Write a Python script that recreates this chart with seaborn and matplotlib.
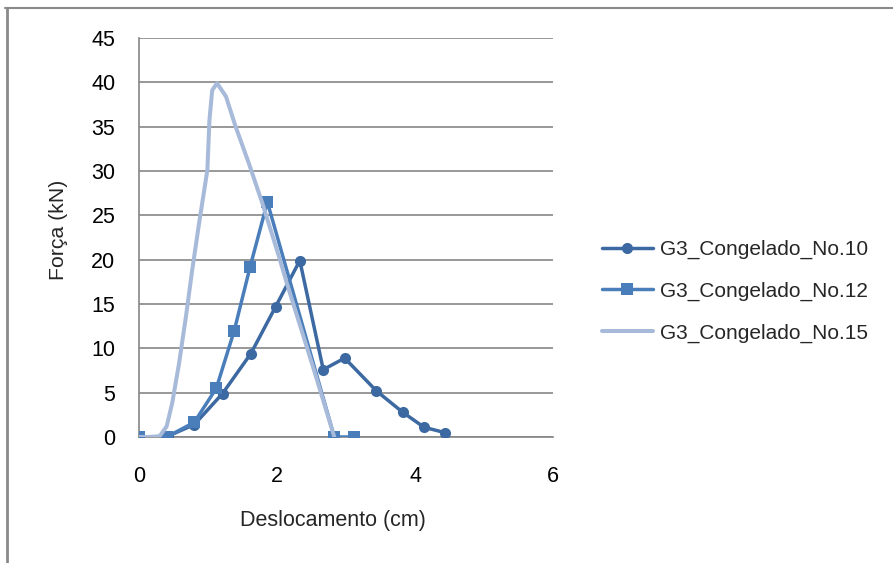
import numpy as np
import pandas as pd
import matplotlib
matplotlib.use("Agg")
import matplotlib.pyplot as plt
from matplotlib.lines import Line2D
import seaborn as sns

# Data
x_no10 = [0, 0.42, 0.8, 1.21, 1.62, 1.98, 2.33, 2.67, 2.98, 3.44, 3.82, 4.13, 4.43]
y_no10 = [0, 0.1, 1.4, 4.9, 9.4, 14.7, 19.9, 7.6, 8.9, 5.2, 2.8, 1.1, 0.5]

x_no12 = [0, 0.4, 0.8, 1.12, 1.38, 1.61, 1.86, 2.83, 3.12]
y_no12 = [0, 0, 1.65, 5.5, 12.0, 19.2, 26.5, 0, 0]

x_no15 = [0, 0.29, 0.4, 0.48, 0.58, 0.68, 0.77, 0.87, 0.99, 1.02, 1.06, 1.13,
          1.26, 1.40, 1.59, 1.79, 2.03, 2.14, 2.53, 2.83]
y_no15 = [0, 0, 1.2, 3.8, 8.3, 13.6, 18.8, 24.1, 30.1, 35.7, 39.1, 39.9,
          38.4, 35.0, 30.9, 26.3, 20.3, 17.4, 7.7, 0]

labels = ["G3_Congelado_No.10", "G3_Congelado_No.12", "G3_Congelado_No.15"]
colors = ["#3C69A2", "#4A7EBB", "#A7BAD9"]

x_ticks = [0, 2, 4, 6]
y_ticks = [0, 5, 10, 15, 20, 25, 30, 35, 40, 45]

sns.set_theme(style="white")
plt.rcParams['font.family'] = ['Liberation Sans', 'DejaVu Sans']

fig = plt.figure(figsize=(8.93, 5.63), dpi=100)
ax = fig.add_axes([0.1557, 0.2238, 0.4636, 0.7087])

series = [(x_no10, y_no10, "o", 8), (x_no12, y_no12, "s", 8), (x_no15, y_no15, None, 0)]
for (xs, ys, mk, ms), lab, col in zip(series, labels, colors):
    df = pd.DataFrame({"x": xs, "y": ys})
    sns.lineplot(data=df, x="x", y="y", ax=ax, sort=False, color=col,
                 linewidth=2.5 if mk else 2.9, marker=mk, markersize=ms,
                 markeredgewidth=0, label=lab, zorder=3)

ax.set_xlim(0, 6)
ax.set_ylim(0, 45)
ax.set_xticks(x_ticks)
ax.set_yticks(y_ticks)
ax.tick_params(axis="both", labelsize=15.5, length=0, colors="black")
ax.tick_params(axis="x", pad=21)
ax.tick_params(axis="y", pad=17)
ax.yaxis.grid(True, color="#868686", linewidth=1.2)
ax.xaxis.grid(False)
for side in ["top", "right"]:
    ax.spines[side].set_visible(False)
for side in ["left", "bottom"]:
    ax.spines[side].set_color("#868686")
    ax.spines[side].set_linewidth(1.2)

ax.set_xlabel("Deslocamento (cm)", fontsize=15.5)
ax.set_ylabel("Força (kN)", fontsize=15.3)
ax.xaxis.label.set_va("center")
ax.yaxis.label.set_va("center")
ax.xaxis.set_label_coords(0.469, -0.2105)
ax.yaxis.set_label_coords(-0.195, 0.519)

leg = ax.legend(loc="center left", bbox_to_anchor=(1.118, 0.365), frameon=False,
                fontsize=15, handlelength=2.45, labelspacing=1.08, handletextpad=0.34,
                borderpad=0, borderaxespad=0)

# outer frame (top and left edges only)
fig.add_artist(Line2D([0.006, 1.0], [0.985, 0.985], transform=fig.transFigure,
                      color="#8a8a8a", linewidth=1.5))
fig.add_artist(Line2D([0.008, 0.008], [0.0, 0.985], transform=fig.transFigure,
                      color="#8a8a8a", linewidth=2.0))

fig.savefig("out.png", dpi=100)
